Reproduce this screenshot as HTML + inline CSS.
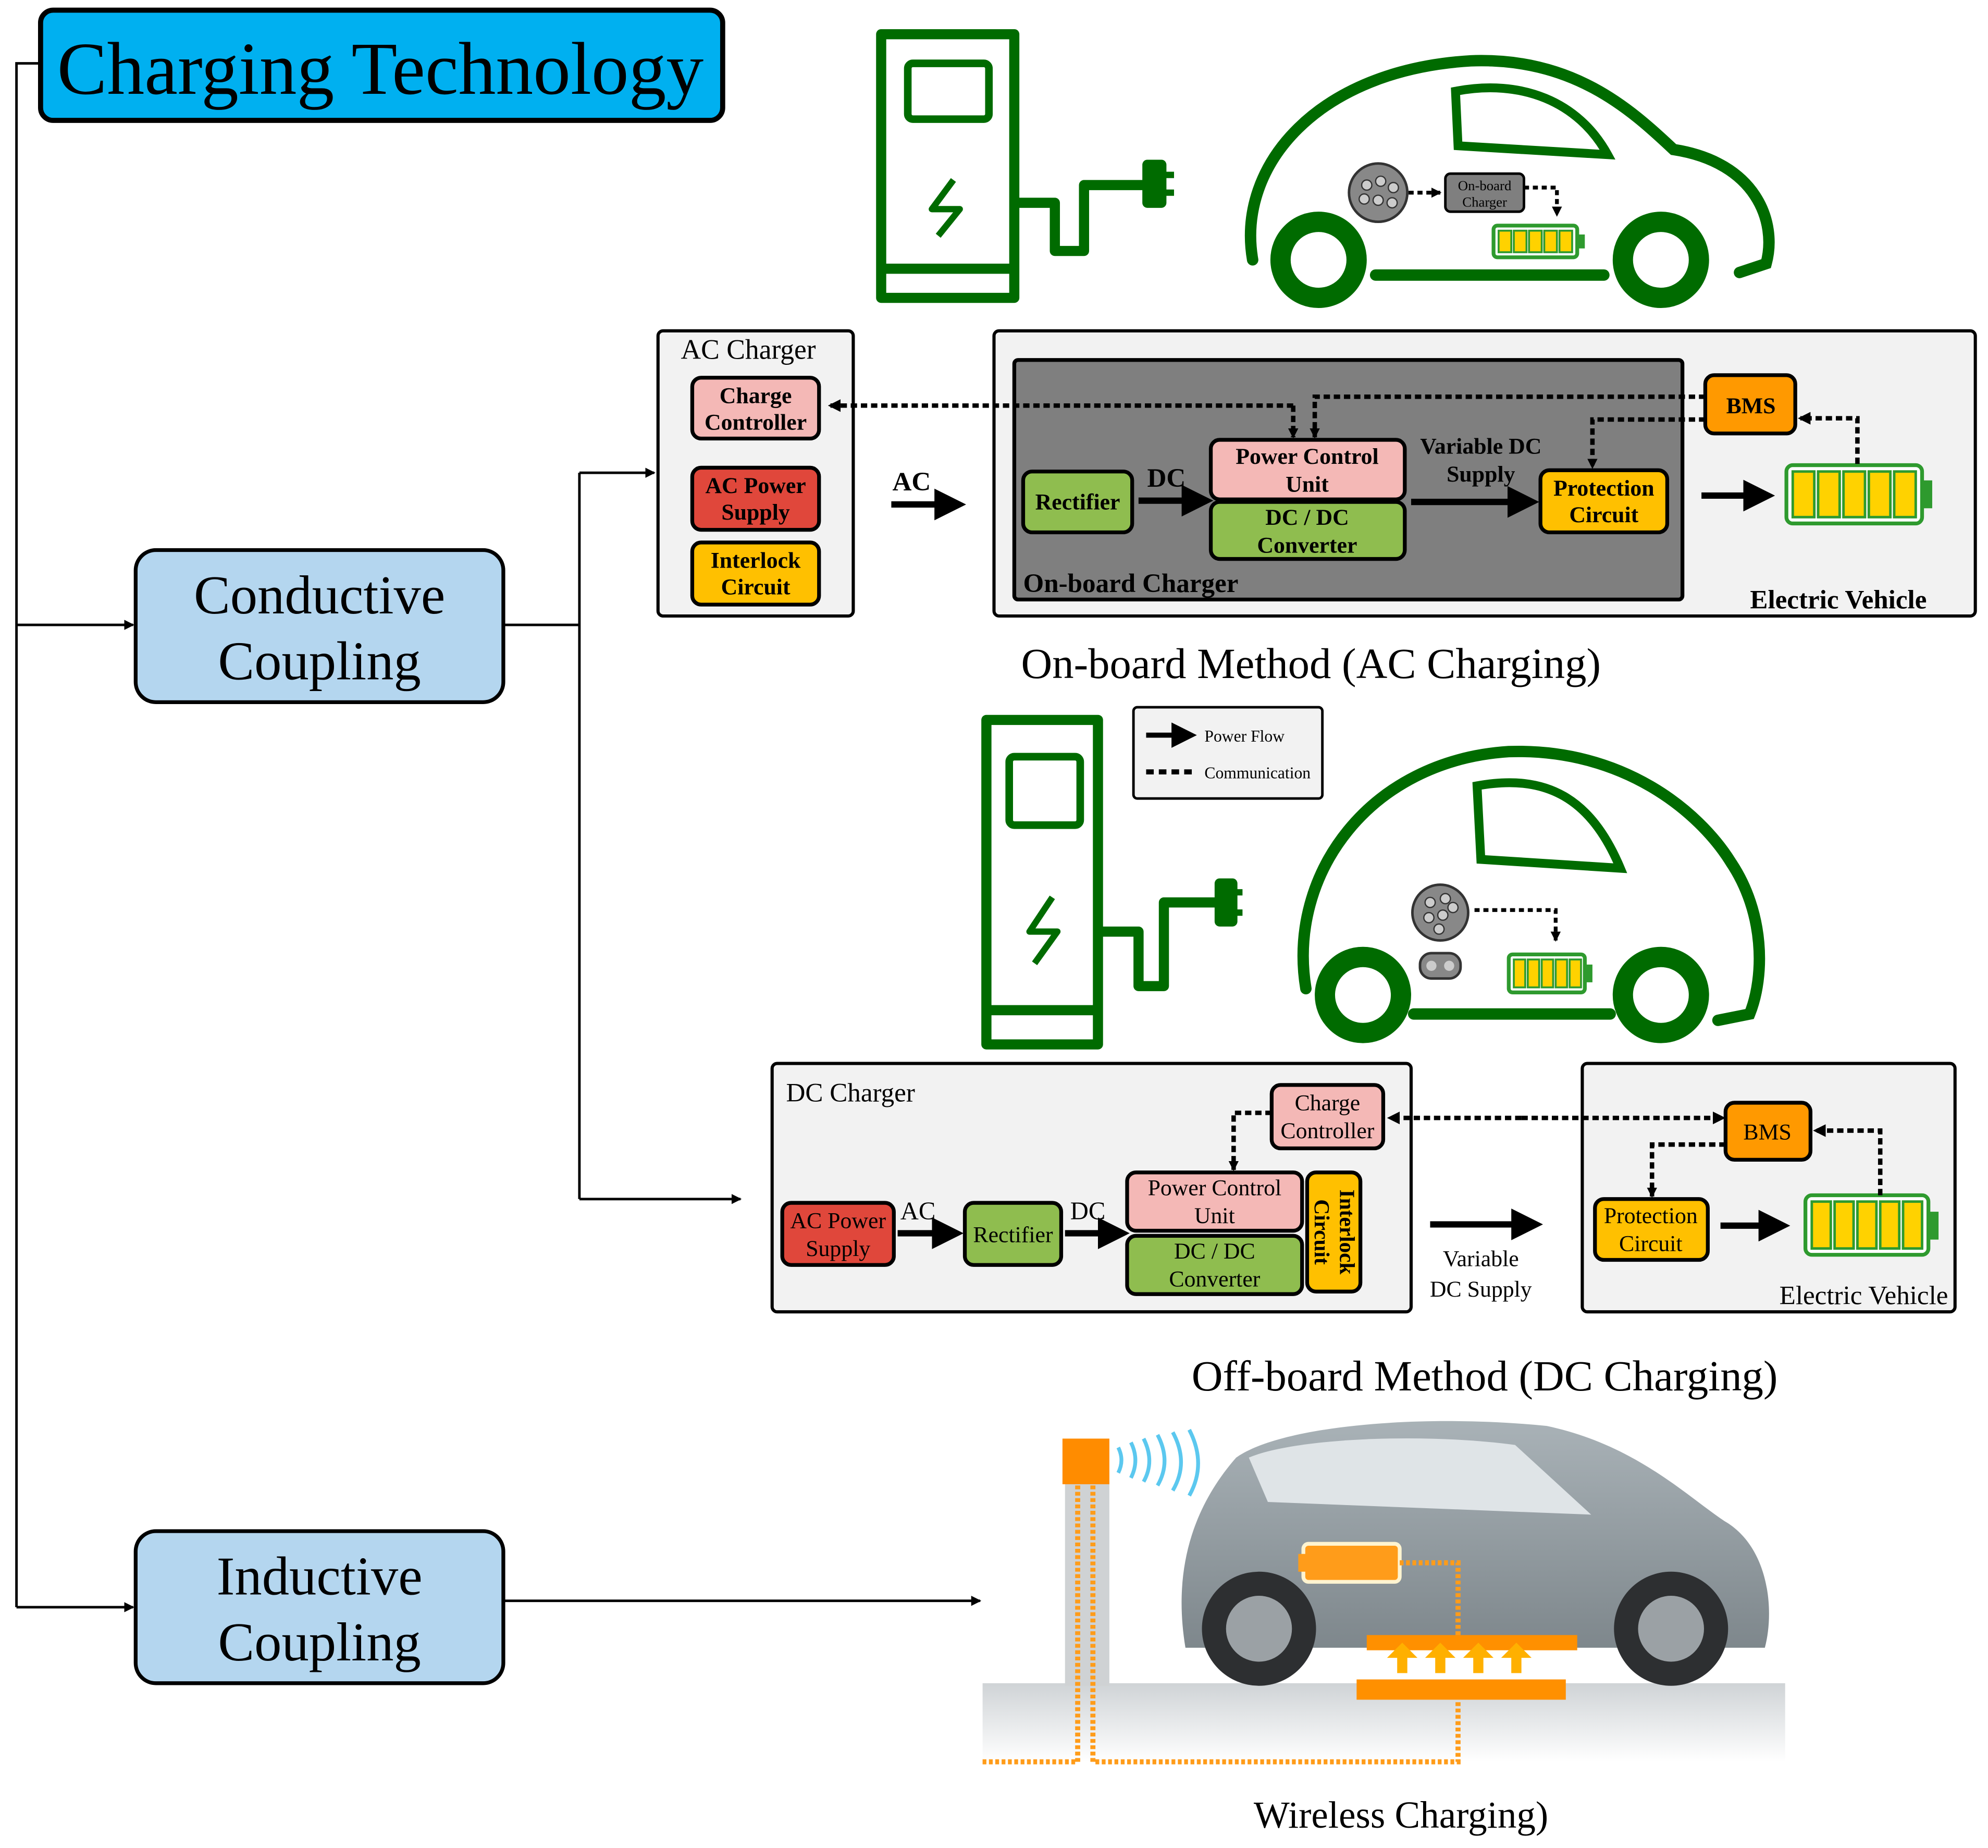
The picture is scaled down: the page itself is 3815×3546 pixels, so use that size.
<!DOCTYPE html>
<html><head><meta charset="utf-8"><style>
html,body{margin:0;padding:0;background:#fff}
svg{display:block}
text{font-family:"Liberation Serif",serif}
</style></head><body>
<svg width="3815" height="3546" viewBox="0 0 1568 1458" preserveAspectRatio="none" xmlns="http://www.w3.org/2000/svg">
<defs>
<marker id="a" markerWidth="8" markerHeight="8" refX="7" refY="4" orient="auto" markerUnits="userSpaceOnUse"><path d="M0,0 L8,4 L0,8 z" fill="#000"/></marker>
<marker id="b" markerWidth="10" markerHeight="10" refX="8" refY="5" orient="auto" markerUnits="userSpaceOnUse"><path d="M0,0 L10,5 L0,10 z" fill="#000"/></marker>
<marker id="big" markerWidth="5" markerHeight="5" refX="3" refY="2.5" orient="auto"><path d="M0,0 L5,2.5 L0,5 z" fill="#000"/></marker>
<linearGradient id="g" x1="0" y1="0" x2="0" y2="1"><stop offset="0" stop-color="#cfd3d6"/><stop offset="1" stop-color="#fff"/></linearGradient>
<linearGradient id="car" x1="0" y1="0" x2="0" y2="1"><stop offset="0" stop-color="#a9b2b7"/><stop offset="1" stop-color="#7e878c"/></linearGradient>
</defs>

<rect x="32" y="8" width="538" height="87" rx="10" fill="#00b0f0" stroke="#000" stroke-width="4"/>
<text x="300" y="74" font-size="59" text-anchor="middle">Charging Technology</text>

<g stroke="#000" stroke-width="2" fill="none">
<path d="M32,50 H13 V1268"/>
<path d="M13,493 H105" marker-end="url(#a)"/>
<path d="M13,1268 H105" marker-end="url(#a)"/>
<path d="M397,493 H457"/>
<path d="M457,373 V946"/>
<path d="M457,373 H516" marker-end="url(#a)"/>
<path d="M457,946 H584" marker-end="url(#a)"/>
<path d="M397,1263 H773" marker-end="url(#a)"/>
</g>
<rect x="107" y="434" width="290" height="120" rx="16" fill="#b4d6ef" stroke="#000" stroke-width="3"/>
<text x="252" y="484" font-size="43" text-anchor="middle">Conductive</text>
<text x="252" y="536" font-size="43" text-anchor="middle">Coupling</text>
<rect x="107" y="1208" width="290" height="120" rx="16" fill="#b4d6ef" stroke="#000" stroke-width="3"/>
<text x="252" y="1258" font-size="43" text-anchor="middle">Inductive</text>
<text x="252" y="1310" font-size="43" text-anchor="middle">Coupling</text>

<g stroke="#006b00" stroke-width="8" fill="none" stroke-linejoin="round">
<rect x="695" y="27" width="105" height="208"/>
<rect x="716" y="50" width="64" height="44" rx="4" stroke-width="6"/>
<line x1="695" y1="212" x2="800" y2="212"/>
<path d="M800,160 H832 V198 H855 V146 H905"/>
<path d="M905,130 H916 V160 H905 Z" fill="#006b00"/>
<path d="M916,138 H926 M916,152 H926" stroke-width="5"/>
<path d="M752,142 L735,165 H757 L740,186" stroke-width="5"/>
</g>
<g stroke="#006b00" stroke-width="9" fill="none" stroke-linecap="round">
<path d="M988,205 C975,130 1040,55 1160,48 C1240,45 1285,85 1320,118 C1385,128 1402,175 1393,208 L1372,215"/>
<path d="M1085,217 H1265"/>
<path d="M1148,72 C1200,62 1245,80 1268,122 L1150,115 Z" stroke-width="7"/>
</g>
<circle cx="1040" cy="205" r="30" fill="#fff" stroke="#006b00" stroke-width="16"/>
<circle cx="1310" cy="205" r="30" fill="#fff" stroke="#006b00" stroke-width="16"/>
<circle cx="1087" cy="152" r="23" fill="#888" stroke="#333" stroke-width="2"/>
<g fill="#ccc" stroke="#333" stroke-width="1"><circle cx="1078" cy="146" r="4"/><circle cx="1089" cy="143" r="4"/><circle cx="1099" cy="148" r="4"/><circle cx="1076" cy="157" r="4"/><circle cx="1087" cy="158" r="4"/><circle cx="1098" cy="160" r="4"/></g>
<rect x="1140" y="137" width="62" height="30" rx="4" fill="#7f7f7f" stroke="#000" stroke-width="2"/>
<text x="1171" y="150" font-size="11" text-anchor="middle">On-board</text>
<text x="1171" y="163" font-size="11" text-anchor="middle">Charger</text>
<g stroke="#000" stroke-width="3" stroke-dasharray="4,3" fill="none"><path d="M1111,152 H1136" marker-end="url(#a)"/><path d="M1202,148 H1228 V170" marker-end="url(#a)"/></g>
<rect x="1178" y="178" width="66" height="25" rx="3" fill="#fff" stroke="#2e9a2e" stroke-width="3"/>
<rect x="1244" y="185" width="6" height="11" fill="#2e9a2e"/>
<g fill="#ffd200" stroke="#2e9a2e" stroke-width="1.5"><rect x="1182" y="182" width="10" height="17"/><rect x="1194" y="182" width="10" height="17"/><rect x="1206" y="182" width="10" height="17"/><rect x="1218" y="182" width="10" height="17"/><rect x="1230" y="182" width="10" height="17"/></g>

<rect x="519" y="261" width="154" height="225" rx="4" fill="#f2f2f2" stroke="#000" stroke-width="2.5"/>
<text x="537" y="283" font-size="22">AC Charger</text>
<rect x="546" y="298" width="100" height="48" rx="7" fill="#f4b8b6" stroke="#000" stroke-width="3"/>
<text x="596" y="318" font-size="18" text-anchor="middle" font-weight="bold">Charge</text>
<text x="596" y="339" font-size="18" text-anchor="middle" font-weight="bold">Controller</text>
<rect x="546" y="369" width="100" height="49" rx="7" fill="#e0473b" stroke="#000" stroke-width="3"/>
<text x="596" y="389" font-size="18" text-anchor="middle" font-weight="bold">AC Power</text>
<text x="596" y="410" font-size="18" text-anchor="middle" font-weight="bold">Supply</text>
<rect x="546" y="428" width="100" height="49" rx="7" fill="#ffc000" stroke="#000" stroke-width="3"/>
<text x="596" y="448" font-size="18" text-anchor="middle" font-weight="bold">Interlock</text>
<text x="596" y="469" font-size="18" text-anchor="middle" font-weight="bold">Circuit</text>
<text x="719" y="387" font-size="21" text-anchor="middle" font-weight="bold">AC</text>
<line x1="703" y1="398" x2="752" y2="398" stroke="#000" stroke-width="5" marker-end="url(#big)"/>

<rect x="784" y="261" width="774" height="225" rx="4" fill="#f2f2f2" stroke="#000" stroke-width="2.5"/>
<rect x="800" y="284" width="527" height="189" rx="3" fill="#7f7f7f" stroke="#000" stroke-width="3"/>
<rect x="807" y="372" width="86" height="48" rx="7" fill="#8fbd4f" stroke="#000" stroke-width="3"/>
<text x="850" y="402" font-size="18" text-anchor="middle" font-weight="bold">Rectifier</text>
<text x="920" y="384" font-size="21" text-anchor="middle" font-weight="bold">DC</text>
<line x1="898" y1="395" x2="947" y2="395" stroke="#000" stroke-width="5" marker-end="url(#big)"/>
<rect x="955" y="347" width="153" height="47" rx="7" fill="#f4b8b6" stroke="#000" stroke-width="3"/>
<text x="1031" y="366" font-size="18" text-anchor="middle" font-weight="bold">Power Control</text>
<text x="1031" y="388" font-size="18" text-anchor="middle" font-weight="bold">Unit</text>
<rect x="955" y="396" width="153" height="45" rx="7" fill="#8fbd4f" stroke="#000" stroke-width="3"/>
<text x="1031" y="414" font-size="18" text-anchor="middle" font-weight="bold">DC / DC</text>
<text x="1031" y="436" font-size="18" text-anchor="middle" font-weight="bold">Converter</text>
<text x="807" y="467" font-size="21" font-weight="bold">On-board Charger</text>
<text x="1168" y="358" font-size="18" text-anchor="middle" font-weight="bold">Variable DC</text>
<text x="1168" y="380" font-size="18" text-anchor="middle" font-weight="bold">Supply</text>
<line x1="1113" y1="396" x2="1204" y2="396" stroke="#000" stroke-width="5" marker-end="url(#big)"/>
<rect x="1215" y="371" width="100" height="49" rx="7" fill="#ffc000" stroke="#000" stroke-width="3"/>
<text x="1265" y="391" font-size="18" text-anchor="middle" font-weight="bold">Protection</text>
<text x="1265" y="412" font-size="18" text-anchor="middle" font-weight="bold">Circuit</text>
<line x1="1342" y1="391" x2="1390" y2="391" stroke="#000" stroke-width="5" marker-end="url(#big)"/>
<rect x="1409" y="367" width="107" height="46" rx="5" fill="#fff" stroke="#2e9a2e" stroke-width="3"/>
<rect x="1516" y="379" width="8" height="22" fill="#2e9a2e"/>
<g fill="#ffd200" stroke="#2e9a2e" stroke-width="2"><rect x="1414" y="372" width="17" height="36"/><rect x="1434" y="372" width="17" height="36"/><rect x="1454" y="372" width="17" height="36"/><rect x="1474" y="372" width="17" height="36"/><rect x="1494" y="372" width="17" height="36"/></g>
<rect x="1345" y="296" width="71" height="46" rx="7" fill="#ff9900" stroke="#000" stroke-width="3"/>
<text x="1381" y="326" font-size="18" text-anchor="middle" font-weight="bold">BMS</text>
<text x="1450" y="480" font-size="21" text-anchor="middle" font-weight="bold">Electric Vehicle</text>
<g stroke="#000" stroke-width="3.5" stroke-dasharray="5,3" fill="none">
<path d="M1020,320 H655" marker-end="url(#b)"/>
<path d="M1020,320 V345" marker-end="url(#a)"/>
<path d="M1345,313 H1037 V345" marker-end="url(#a)"/>
<path d="M1345,331 H1256 V369" marker-end="url(#a)"/>
<path d="M1465,366 V330 H1420" marker-end="url(#b)"/>
</g>
<text x="1034" y="535" font-size="34" text-anchor="middle">On-board Method (AC Charging)</text>

<rect x="894" y="558" width="149" height="72" rx="3" fill="#f2f2f2" stroke="#000" stroke-width="2"/>
<line x1="904" y1="580" x2="936" y2="580" stroke="#000" stroke-width="4" marker-end="url(#big)"/>
<text x="950" y="585" font-size="13">Power Flow</text>
<line x1="904" y1="609" x2="940" y2="609" stroke="#000" stroke-width="4" stroke-dasharray="6,4"/>
<text x="950" y="614" font-size="13">Communication</text>

<g stroke="#006b00" stroke-width="8" fill="none" stroke-linejoin="round">
<rect x="778" y="568" width="88" height="256"/>
<rect x="796" y="597" width="56" height="54" rx="4" stroke-width="6"/>
<line x1="778" y1="797" x2="866" y2="797"/>
<path d="M866,735 H898 V778 H918 V712 H962"/>
<path d="M962,697 H972 V727 H962 Z" fill="#006b00"/>
<path d="M972,704 H980 M972,720 H980" stroke-width="5"/>
<path d="M830,708 L812,735 H834 L816,760" stroke-width="5"/>
</g>
<g stroke="#006b00" stroke-width="9" fill="none" stroke-linecap="round">
<path d="M1030,780 C1015,690 1080,600 1190,593 C1280,590 1340,640 1365,680 C1392,720 1392,770 1380,800 L1355,805"/>
<path d="M1115,800 H1270"/>
<path d="M1165,620 C1220,610 1255,630 1278,685 L1168,678 Z" stroke-width="7"/>
</g>
<circle cx="1075" cy="785" r="30" fill="#fff" stroke="#006b00" stroke-width="16"/>
<circle cx="1310" cy="785" r="30" fill="#fff" stroke="#006b00" stroke-width="16"/>
<circle cx="1136" cy="720" r="22" fill="#888" stroke="#333" stroke-width="2"/>
<g fill="#ccc" stroke="#333" stroke-width="1"><circle cx="1128" cy="712" r="4"/><circle cx="1140" cy="709" r="4"/><circle cx="1127" cy="724" r="4"/><circle cx="1138" cy="722" r="4"/><circle cx="1146" cy="716" r="4"/><circle cx="1135" cy="733" r="4"/></g>
<rect x="1120" y="752" width="32" height="20" rx="9" fill="#888" stroke="#333" stroke-width="2"/>
<circle cx="1129" cy="762" r="4" fill="#ccc"/><circle cx="1143" cy="762" r="4" fill="#ccc"/>
<path d="M1163,718 H1227 V742" stroke="#000" stroke-width="3" stroke-dasharray="4,3" fill="none" marker-end="url(#a)"/>
<rect x="1190" y="753" width="60" height="30" rx="3" fill="#fff" stroke="#2e9a2e" stroke-width="3"/>
<rect x="1250" y="761" width="6" height="14" fill="#2e9a2e"/>
<g fill="#ffd200" stroke="#2e9a2e" stroke-width="1.5"><rect x="1194" y="757" width="9" height="22"/><rect x="1205" y="757" width="9" height="22"/><rect x="1216" y="757" width="9" height="22"/><rect x="1227" y="757" width="9" height="22"/><rect x="1238" y="757" width="9" height="22"/></g>

<rect x="609" y="839" width="504" height="196" rx="4" fill="#f2f2f2" stroke="#000" stroke-width="2.5"/>
<text x="620" y="869" font-size="21">DC Charger</text>
<rect x="617" y="949" width="88" height="49" rx="7" fill="#e0473b" stroke="#000" stroke-width="3"/>
<text x="661" y="969" font-size="18" text-anchor="middle">AC Power</text>
<text x="661" y="991" font-size="18" text-anchor="middle">Supply</text>
<text x="724" y="962" font-size="20" text-anchor="middle">AC</text>
<line x1="708" y1="973" x2="750" y2="973" stroke="#000" stroke-width="5" marker-end="url(#big)"/>
<rect x="761" y="949" width="76" height="49" rx="7" fill="#8fbd4f" stroke="#000" stroke-width="3"/>
<text x="799" y="980" font-size="18" text-anchor="middle">Rectifier</text>
<text x="858" y="962" font-size="20" text-anchor="middle">DC</text>
<line x1="840" y1="973" x2="881" y2="973" stroke="#000" stroke-width="5" marker-end="url(#big)"/>
<rect x="889" y="925" width="138" height="46" rx="7" fill="#f4b8b6" stroke="#000" stroke-width="3"/>
<text x="958" y="943" font-size="18" text-anchor="middle">Power Control</text>
<text x="958" y="965" font-size="18" text-anchor="middle">Unit</text>
<rect x="889" y="975" width="138" height="46" rx="7" fill="#8fbd4f" stroke="#000" stroke-width="3"/>
<text x="958" y="993" font-size="18" text-anchor="middle">DC / DC</text>
<text x="958" y="1015" font-size="18" text-anchor="middle">Converter</text>
<rect x="1031" y="925" width="42" height="94" rx="7" fill="#ffc000" stroke="#000" stroke-width="3"/>
<text transform="translate(1057,972) rotate(90)" font-size="17" text-anchor="middle" font-weight="bold">Interlock</text>
<text transform="translate(1037,972) rotate(90)" font-size="17" text-anchor="middle" font-weight="bold">Circuit</text>
<rect x="1003" y="856" width="88" height="50" rx="7" fill="#f4b8b6" stroke="#000" stroke-width="3"/>
<text x="1047" y="876" font-size="18" text-anchor="middle">Charge</text>
<text x="1047" y="898" font-size="18" text-anchor="middle">Controller</text>
<path d="M1003,878 H973 V923" stroke="#000" stroke-width="3.5" stroke-dasharray="5,3" fill="none" marker-end="url(#a)"/>
<line x1="1128" y1="966" x2="1207" y2="966" stroke="#000" stroke-width="5" marker-end="url(#big)"/>
<text x="1168" y="999" font-size="18" text-anchor="middle">Variable</text>
<text x="1168" y="1023" font-size="18" text-anchor="middle">DC Supply</text>

<rect x="1248" y="839" width="294" height="196" rx="4" fill="#f2f2f2" stroke="#000" stroke-width="2.5"/>
<rect x="1361" y="870" width="67" height="45" rx="7" fill="#ff9900" stroke="#000" stroke-width="3"/>
<text x="1394" y="899" font-size="18" text-anchor="middle">BMS</text>
<rect x="1258" y="946" width="89" height="48" rx="7" fill="#ffc000" stroke="#000" stroke-width="3"/>
<text x="1302" y="965" font-size="18" text-anchor="middle">Protection</text>
<text x="1302" y="987" font-size="18" text-anchor="middle">Circuit</text>
<line x1="1357" y1="967" x2="1402" y2="967" stroke="#000" stroke-width="5" marker-end="url(#big)"/>
<rect x="1424" y="943" width="97" height="47" rx="5" fill="#fff" stroke="#2e9a2e" stroke-width="3"/>
<rect x="1521" y="956" width="8" height="22" fill="#2e9a2e"/>
<g fill="#ffd200" stroke="#2e9a2e" stroke-width="2"><rect x="1429" y="948" width="15" height="37"/><rect x="1447" y="948" width="15" height="37"/><rect x="1465" y="948" width="15" height="37"/><rect x="1483" y="948" width="15" height="37"/><rect x="1501" y="948" width="15" height="37"/></g>
<text x="1470" y="1029" font-size="21" text-anchor="middle">Electric Vehicle</text>
<g stroke="#000" stroke-width="3.5" stroke-dasharray="5,3" fill="none">
<path d="M1200,882 H1096" marker-end="url(#b)"/>
<path d="M1200,882 H1359" marker-end="url(#b)"/>
<path d="M1361,903 H1303 V944" marker-end="url(#a)"/>
<path d="M1483,943 V892 H1432" marker-end="url(#b)"/>
</g>
<text x="1171" y="1097" font-size="34" text-anchor="middle">Off-board Method (DC Charging)</text>

<rect x="775" y="1328" width="633" height="62" fill="url(#g)"/>
<rect x="840" y="1160" width="35" height="170" fill="#cfd2d4"/>
<rect x="838" y="1135" width="37" height="36" fill="#ff8c00"/>
<g fill="none" stroke="#5bc8ef" stroke-width="3">
<path d="M882,1142 q5,10 0,20"/><path d="M892,1138 q7,14 0,28"/><path d="M902,1135 q9,18 0,34"/><path d="M913,1132 q11,21 0,40"/><path d="M925,1130 q13,24 0,46"/><path d="M938,1128 q14,27 0,52"/>
</g>
<path d="M935,1300 C925,1240 940,1190 975,1150 C1010,1125 1120,1115 1220,1125 C1290,1140 1330,1180 1360,1200 C1395,1220 1400,1270 1392,1300 Z" fill="url(#car)"/>
<path d="M985,1150 C1020,1135 1120,1130 1195,1140 L1255,1195 L1000,1185 Z" fill="#dfe4e7"/>
<circle cx="993" cy="1285" r="45" fill="#2d2f31"/><circle cx="993" cy="1285" r="26" fill="#9ba1a5"/>
<circle cx="1318" cy="1285" r="45" fill="#2d2f31"/><circle cx="1318" cy="1285" r="26" fill="#9ba1a5"/>
<rect x="1028" y="1218" width="76" height="30" rx="4" fill="#ff9c1a" stroke="#fff4d0" stroke-width="3"/>
<rect x="1024" y="1226" width="6" height="14" fill="#ff9c1a"/>
<rect x="1078" y="1290" width="166" height="12" fill="#ff9000"/>
<rect x="1070" y="1325" width="165" height="16" fill="#ff9000"/>
<g fill="#ffb000"><path d="M1102,1320 v-12 h-8 l12,-12 l12,12 h-8 v12z"/><path d="M1132,1320 v-12 h-8 l12,-12 l12,12 h-8 v12z"/><path d="M1162,1320 v-12 h-8 l12,-12 l12,12 h-8 v12z"/><path d="M1192,1320 v-12 h-8 l12,-12 l12,12 h-8 v12z"/></g>
<g fill="none" stroke="#ff9c1a" stroke-width="4" stroke-dasharray="3,2">
<path d="M850,1172 V1390 H775"/>
<path d="M862,1172 V1390 H1150 V1341"/>
<path d="M1104,1233 H1150 V1290"/>
</g>
<text x="1105" y="1442" font-size="30" text-anchor="middle">Wireless Charging)</text>
</svg>
</body></html>
